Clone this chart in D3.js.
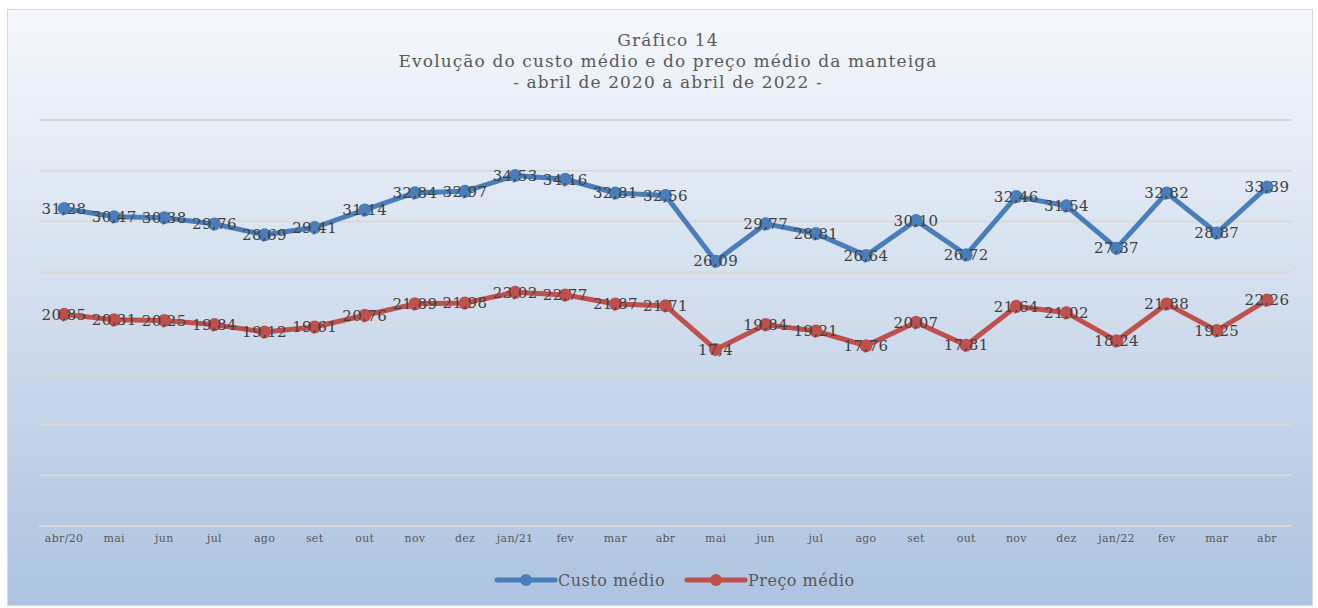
<!DOCTYPE html>
<html>
<head>
<meta charset="utf-8">
<script src="https://cdn.jsdelivr.net/npm/d3@7"></script>
<style>
  body { margin: 0; background: #fff; }
  text { font-family: "DejaVu Serif", serif; }
</style>
</head>
<body>
<div id="chart"></div>
<script>
var months = ["abr/20","mai","jun","jul","ago","set","out","nov","dez","jan/21","fev","mar","abr",
              "mai","jun","jul","ago","set","out","nov","dez","jan/22","fev","mar","abr"];
var custo = [31.28,30.47,30.38,29.76,28.69,29.41,31.14,32.84,32.97,34.53,34.16,32.81,32.56,
             26.09,29.77,28.81,26.64,30.10,26.72,32.46,31.54,27.37,32.82,28.87,33.39];
var preco = [20.85,20.31,20.25,19.84,19.12,19.61,20.76,21.89,21.98,23.02,22.77,21.87,21.71,
             17.4,19.84,19.21,17.76,20.07,17.81,21.64,21.02,18.24,21.88,19.25,22.26];
var custoLabels = ["31,28","30,47","30,38","29,76","28,69","29,41","31,14","32,84","32,97","34,53","34,16","32,81","32,56",
                   "26,09","29,77","28,81","26,64","30,10","26,72","32,46","31,54","27,37","32,82","28,87","33,39"];
var precoLabels = ["20,85","20,31","20,25","19,84","19,12","19,61","20,76","21,89","21,98","23,02","22,77","21,87","21,71",
                   "17,4","19,84","19,21","17,76","20,07","17,81","21,64","21,02","18,24","21,88","19,25","22,26"];
var yTicks = [0,5,10,15,20,25,30,35,40];
var titleLines = ["Gráfico 14", "Evolução do custo médio e do preço médio da manteiga", "- abril de 2020 a abril de 2022 -"];

var W = 1318, H = 608;
var margin = { top: 120, right: 26, bottom: 82, left: 39 },
    width  = W - margin.left - margin.right,
    height = H - margin.top - margin.bottom;

var svg = d3.select("#chart").append("svg")
  .attr("width", W)
  .attr("height", H);

var grad = svg.append("defs").append("linearGradient")
  .attr("id", "bg").attr("x1", 0).attr("y1", 0).attr("x2", 0).attr("y2", 1);
grad.append("stop").attr("offset", "0%").attr("stop-color", "#f5f8fc");
grad.append("stop").attr("offset", "100%").attr("stop-color", "#adc3e0");

// chart frame
svg.append("rect")
  .attr("x", 7.5).attr("y", 9.5)
  .attr("width", 1305).attr("height", 596)
  .attr("fill", "url(#bg)")
  .attr("stroke", "#d9d9d9");

// title
svg.append("text")
  .attr("x", 668)
  .attr("y", 46)
  .style("text-anchor", "middle")
  .style("font-size", "17px")
  .style("letter-spacing", "1.1px")
  .style("fill", "#595959")
  .selectAll("tspan")
  .data(titleLines)
  .enter().append("tspan")
    .attr("x", 668)
    .attr("dy", function(d, i) { return i ? 21 : 0; })
    .text(function(d) { return d; });

var g = svg.append("g")
  .attr("transform", "translate(" + margin.left + "," + margin.top + ")");

var x = d3.scaleBand()
  .domain(d3.range(months.length))
  .range([0, width]);

var y = d3.scaleLinear()
  .domain([0, 40])
  .range([height, 0]);

var cx = function(i) { return x(i) + x.bandwidth() / 2; };

// gridlines
g.selectAll(".grid")
  .data(yTicks)
  .enter().append("line")
    .attr("class", "grid")
    .attr("x1", 0).attr("x2", width)
    .attr("y1", function(d) { return y(d); })
    .attr("y2", function(d) { return y(d); })
    .attr("stroke", "#d9d9d9")
    .attr("stroke-width", 2);

// x axis labels
var xAxis = g.append("g")
  .attr("transform", "translate(0," + height + ")")
  .call(d3.axisBottom(x).tickSize(0).tickPadding(8)
    .tickFormat(function(i) { return months[i]; }));
xAxis.select(".domain").remove();
xAxis.selectAll("text")
  .style("font-family", "DejaVu Serif, serif")
  .style("font-size", "11px")
  .style("letter-spacing", "0.3px")
  .style("fill", "#595959");

var series = [
  { values: custo, labels: custoLabels, color: "#4a7ebb", name: "Custo médio" },
  { values: preco, labels: precoLabels, color: "#c0504d", name: "Preço médio" }
];

var line = d3.line()
  .x(function(d, i) { return cx(i); })
  .y(function(d) { return y(d); });

series.forEach(function(s) {
  g.append("path")
    .attr("d", line(s.values))
    .attr("fill", "none")
    .attr("stroke", s.color)
    .attr("stroke-width", 5)
    .attr("stroke-linejoin", "round");

  g.selectAll(null)
    .data(s.values)
    .enter().append("circle")
      .attr("cx", function(d, i) { return cx(i); })
      .attr("cy", function(d) { return y(d); })
      .attr("r", 6.5)
      .attr("fill", s.color);
});

series.forEach(function(s) {
  g.selectAll(null)
    .data(s.values)
    .enter().append("text")
      .attr("x", function(d, i) { return cx(i); })
      .attr("y", function(d) { return y(d); })
      .attr("dy", "0.35em")
      .style("text-anchor", "middle")
      .style("font-size", "15px")
      .style("letter-spacing", "0.4px")
      .style("fill", "#404040")
      .text(function(d, i) { return s.labels[i]; });
});

// legend
var legendX = [497, 687];
series.forEach(function(s, i) {
  var lg = svg.append("g").attr("transform", "translate(" + legendX[i] + ",580)");
  lg.append("line")
    .attr("x1", 0).attr("x2", 58)
    .attr("stroke", s.color).attr("stroke-width", 5)
    .attr("stroke-linecap", "round");
  lg.append("circle").attr("cx", 29).attr("r", 6).attr("fill", s.color);
  lg.append("text")
    .attr("x", 61).attr("dy", "0.35em")
    .style("font-size", "16px")
    .style("letter-spacing", "0.5px")
    .style("fill", "#595959")
    .text(s.name);
});
</script>
</body>
</html>
